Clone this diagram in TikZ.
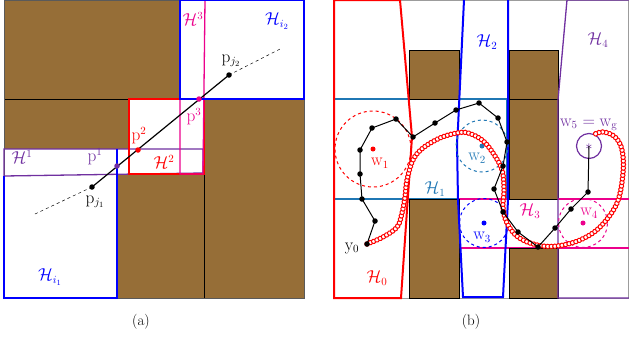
\documentclass[tikz,border=0pt]{standalone}
\usetikzlibrary{decorations.markings}
\definecolor{brownfill}{RGB}{150,110,55}
\definecolor{hpurple}{RGB}{112,48,160}
\definecolor{tabblue}{RGB}{31,119,180}
\definecolor{frgray}{RGB}{90,90,90}
\tikzset{
  obst/.style={fill=brownfill, draw=black, line width=1pt},
  lbl/.style={font=\fontsize{16}{18}\selectfont, inner sep=0pt},
  captxt/.style={font=\fontsize{15}{17}\selectfont, inner sep=0pt},
  dot/.style={circle, fill=#1, inner sep=0pt, minimum size=5.5pt},
  regA/.style={draw=#1, line width=1.3pt},
  regB/.style={draw=#1, line width=2pt},
  wcirc/.style={draw=#1, dashed, line width=1pt},
  trail/.style={postaction={decorate, decoration={markings,
      mark=between positions 0 and 1 step 3.6pt with {\draw[red, line width=1pt, fill=white] (0,0) circle (2.2pt);}}}},
  pathline/.style={draw=black, line width=1pt},
}
\begin{document}
\begin{tikzpicture}[x=1pt,y=-1pt]
\useasboundingbox (0,0) rectangle (629,343);
% ================= panel (a) =================
\fill[brownfill] (4,0) rectangle (304,298);
\draw[black, line width=0.9pt] (4,99) -- (304,99) (204,99) -- (204,298);
\fill[white] (180,0) rectangle (304,99);
\fill[white] (129,99) rectangle (204,174);
\fill[white] (4,149) rectangle (204,174);
\fill[white] (4,149) rectangle (117,298);
\draw[frgray, line width=0.7pt] (4,0) rectangle (304,298);
% H^1
\draw[regA=hpurple] (4,149) -- (203,149) -- (203,173) -- (4,176) -- cycle;
% H_i1
\draw[regA=blue] (117,149) -- (117,298) -- (4,298) -- (4,176);
% H^2
\draw[regA=red] (129,99) rectangle (204,174);
% H^3
\draw[regA=magenta] (180,0) -- (180,174) -- (203,174) -- (205,0);
% H_i2
\draw[regB=blue] (180,0) rectangle (304,99);
% line
\coordinate (dA) at (35,214);
\coordinate (dB) at (282,48);
\node[dot=black] (pj1) at (92,187) {};
\node[dot=black] (pj2) at (229,75) {};
\draw[black, dashed, line width=0.5pt] (dA) -- (pj1.center);
\draw[black, dashed, line width=0.5pt] (pj2.center) -- (dB);
\draw[black, line width=1.2pt] (pj1.center) -- (pj2.center);
\node[dot=hpurple] (p1) at (117,166) {};
\node[dot=red] (p2) at (138,150) {};
\node[dot=magenta] (p3) at (199,99) {};
\node[lbl, text=hpurple] (lH1) at (22,157) {$\mathcal{H}^1$};
\node[lbl, text=hpurple] (lp1) at (95,157) {$\mathrm{p}^1$};
\node[lbl, text=red] (lp2) at (139,136) {$\mathrm{p}^2$};
\node[lbl, text=red] (lH2) at (164,162) {$\mathcal{H}^2$};
\node[lbl, text=magenta] (lp3) at (194,117) {$\mathrm{p}^3$};
\node[lbl, text=magenta] (lH3) at (193,19) {$\mathcal{H}^3$};
\node[lbl, text=blue] (lHi2) at (277,21) {$\mathcal{H}_{i_2}$};
\node[lbl] (lpj2) at (231,61) {$\mathrm{p}_{j_2}$};
\node[lbl] (lpj1) at (95,202) {$\mathrm{p}_{j_1}$};
\node[lbl, text=blue] (lHi1) at (50,277) {$\mathcal{H}_{i_1}$};
\node[captxt] (capa) at (141,322) {(a)};
% ================= panel (b) =================
\draw[frgray!60, line width=0.7pt] (334,0) rectangle (628,298);
% H_1
\draw[regB=tabblue] (334,99) rectangle (507,199);
% H_3
\draw[regB=magenta] (629,199) -- (459,199) -- (459,248) -- (629,248);
% obstacles
\draw[obst] (409,50) rectangle (459,99);
\draw[obst] (409,199) rectangle (459,298);
\draw[obst] (509,50) rectangle (558,99);
\draw[obst] (509,99) rectangle (558,199);
\draw[obst] (509,248) rectangle (558,298);
\draw[regB=magenta] (558,199) -- (629,199);
% H_0
\draw[regB=red] (334,0) -- (400,0) -- (412,137) -- (401,298) -- (334,298) -- cycle;
% H_2
\draw[regB=blue] (464,0) -- (458,127) -- (457,143) -- (458,200) -- (463,297) -- (503,297) -- (508,200) -- (508,0);
% H_4
\draw[regA=hpurple] (629,0) -- (567,0) -- (558,100) -- (558,298) -- (629,298);
% circles
\node[dot=red, minimum size=5pt] (w1) at (373,149) {};
\draw[wcirc=red] (w1.center) circle (38pt);
\node[dot=tabblue, minimum size=5pt] (w2) at (482,146) {};
\draw[wcirc=tabblue] (w2.center) circle (26pt);
\node[dot=blue, minimum size=5pt] (w3) at (484,223) {};
\draw[wcirc=blue] (w3.center) circle (24.5pt);
\node[dot=magenta, minimum size=5pt] (w4) at (583,223) {};
\draw[wcirc=magenta] (w4.center) circle (24.5pt);
\node[circle, draw=hpurple, line width=1.2pt, minimum size=25pt, inner sep=0pt] (w5) at (589,146) {};
\node[text=hpurple, inner sep=0pt, font=\fontsize{14}{14}\selectfont] (star) at (589,147) {$\ast$};
% red trail
\begin{scope}[shift={(495,190)}]
\path[trail] plot[smooth, tension=0.6] coordinates {
 (-128,54) (-112,47) (-98,37) (-93,23) (-90,7) (-88,-10) (-82,-30)
 (-72,-42) (-55,-52) (-38,-57) (-27,-57) (-13,-50) (-2,-37) (7,-20)
 (9,0) (8,17) (12,33) (23,47) (42,55) (62,56) (85,50)
 (105,37) (122,13) (128,-17) (127,-40) (120,-53) (108,-58) (98,-55)};
\end{scope}
% black path
\foreach \n/\p in {b0/{(367,244)}, b1/{(375,221)}, b2/{(362,199)}, b3/{(360,174)},
  b4/{(360,150)}, b5/{(372,128)}, b6/{(396,119)}, b7/{(413,137)}, b8/{(435,123)},
  b9/{(456,110)}, b10/{(479,103)}, b11/{(498,118)}, b12/{(507,142)}, b13/{(503,166)},
  b14/{(494,189)}, b15/{(503,212)}, b16/{(518,232)}, b17/{(538,247)}, b18/{(555,228)},
  b19/{(571,209)}, b20/{(588,192)}}
  \node[dot=black] (\n) at \p {};
\draw[pathline] (b0.center) -- (b1.center) -- (b2.center) -- (b3.center) -- (b4.center)
  -- (b5.center) -- (b6.center) -- (b7.center) -- (b8.center) -- (b9.center) -- (b10.center)
  -- (b11.center) -- (b12.center) -- (b13.center) -- (b14.center) -- (b15.center)
  -- (b16.center) -- (b17.center) -- (b18.center) -- (b19.center) -- (b20.center) -- (w5.center);
% labels
\node[lbl, text=red] (lw1) at (380,163) {$\mathrm{w}_1$};
\node[lbl, text=tabblue] (lw2) at (477,158) {$\mathrm{w}_2$};
\node[lbl, text=blue] (lw3) at (482,237) {$\mathrm{w}_3$};
\node[lbl, text=magenta] (lw4) at (589,213) {$\mathrm{w}_4$};
\node[lbl, text=hpurple, anchor=west] (lw5) at (560,125) {$\mathrm{w}_5=\mathrm{w}_\mathrm{g}$};
\node[lbl] (ly0) at (352,248) {$\mathrm{y}_0$};
\node[lbl, text=red] (lH0) at (377,278) {$\mathcal{H}_0$};
\node[lbl, text=tabblue] (lHb1) at (435,189) {$\mathcal{H}_1$};
\node[lbl, text=blue] (lHb2) at (487,42) {$\mathcal{H}_2$};
\node[lbl, text=magenta] (lHb3) at (530,211) {$\mathcal{H}_3$};
\node[lbl, text=hpurple] (lHb4) at (598,40) {$\mathcal{H}_4$};
\node[captxt] (capb) at (471,322) {(b)};
\end{tikzpicture}
\end{document}
